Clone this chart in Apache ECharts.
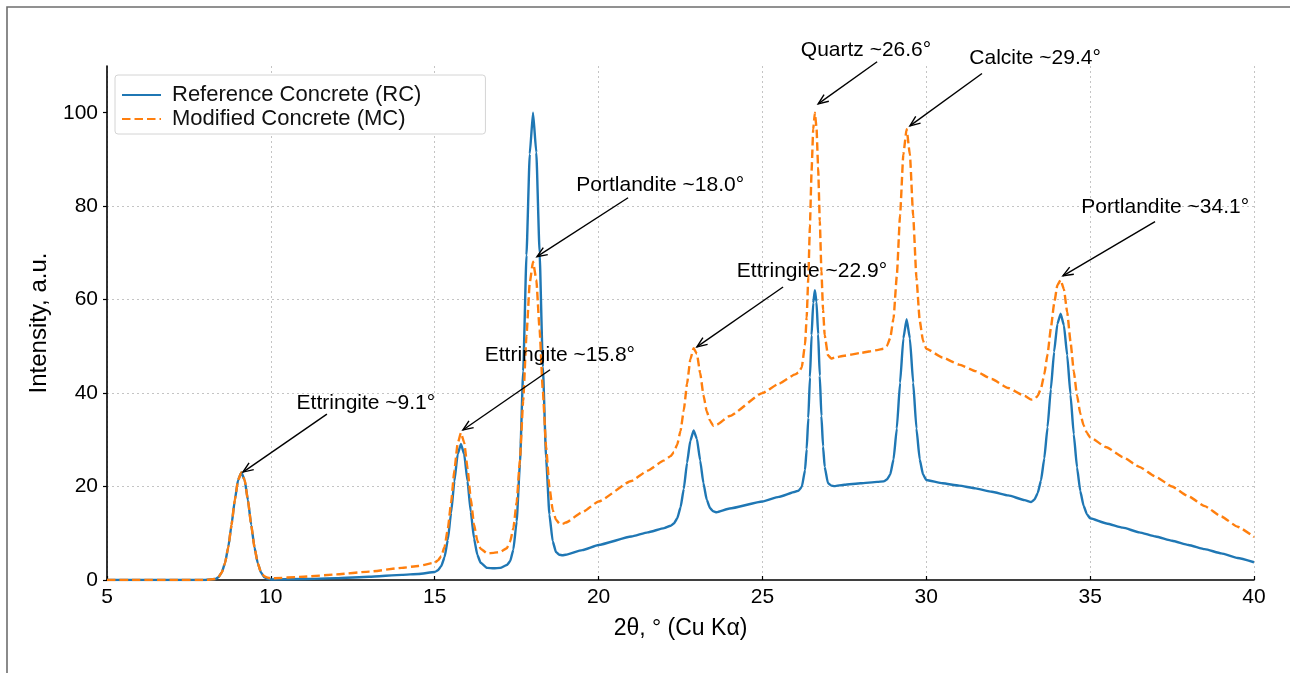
<!DOCTYPE html>
<html>
<head>
<meta charset="utf-8">
<script src="https://cdn.jsdelivr.net/npm/echarts@6/dist/echarts.min.js"></script>
<style>
html,body{margin:0;padding:0;background:#fff;}
#chart{width:1290px;height:673px;}
</style>
</head>
<body>
<div id="chart"></div>
<script>
// ---- data ----
const twoTheta = [5,6,7,8,8.3,8.4,8.5,8.6,8.7,8.8,8.9,9.0,9.1,9.2,9.3,9.4,9.5,9.6,9.7,9.8,9.9,10,
  11,12,13,14,14.5,15,15.1,15.2,15.3,15.4,15.5,15.6,15.7,15.8,15.9,16.0,16.1,16.2,16.3,16.4,16.6,16.8,17.0,17.2,
  17.3,17.4,17.5,17.6,17.7,17.8,17.9,18.0,18.1,18.2,18.3,18.4,18.5,18.6,18.7,18.8,18.9,19.0,19.5,20,21,21.5,22,22.2,
  22.3,22.4,22.5,22.6,22.7,22.8,22.9,23.0,23.1,23.2,23.3,23.4,23.5,23.6,24,25,25.5,26,26.1,26.2,26.3,26.35,26.4,26.45,
  26.5,26.55,26.6,26.65,26.7,26.75,26.8,26.85,26.9,27.0,27.1,27.2,27.5,28,28.5,28.7,28.8,28.9,29.0,29.1,29.2,29.3,
  29.4,29.5,29.6,29.7,29.8,29.9,30.0,30.5,31,31.5,32,32.5,33,33.2,33.3,33.4,33.5,33.6,33.7,33.8,33.9,34.0,34.1,34.2,
  34.3,34.4,34.5,34.6,34.7,34.8,34.9,35.0,35.5,36,36.5,37,37.5,38,38.5,39,39.5,40];

const rcIntensity = [0,0,0,0,0.2,0.6,1.6,3.6,7.0,11.8,17.1,21.4,23.0,21.4,17.1,11.8,7.0,3.6,1.6,0.6,0.25,0.1,
  0.2,0.4,0.7,1.1,1.3,1.7,2.1,3.0,4.9,8.6,14.4,21.1,26.9,29.1,26.9,21.2,14.6,8.9,5.4,3.7,2.6,2.5,2.6,3.2,
  4.0,6.5,12.5,24.8,44.7,69.5,91.2,100.0,91.5,70.1,45.6,26.0,14.0,8.3,6.0,5.4,5.3,5.4,6.4,7.5,9.3,10.2,11.1,11.6,
  12.1,13.2,15.5,19.5,25.1,29.8,32.0,30.2,25.6,20.7,17.2,15.4,14.7,14.5,15.3,16.8,17.8,18.9,19.1,19.9,23.5,28.0,34.7,43.4,
  52.4,59.3,62.0,59.5,52.6,43.7,35.1,28.6,24.2,20.7,20.2,20.1,20.4,20.7,21.0,21.1,21.5,22.6,25.8,32.4,42.2,51.7,
  55.8,51.7,42.2,32.4,25.8,22.6,21.4,20.7,20.2,19.6,18.9,18.1,17.1,16.7,17.2,18.6,21.3,26.0,32.7,40.8,48.8,54.8,57.0,54.5,
  48.1,39.7,31.2,24.1,19.0,15.9,14.1,13.2,12.1,11.2,10.2,9.3,8.4,7.5,6.6,5.7,4.7,3.8];

const mcIntensity = [0,0,0,0,0.2,0.6,1.6,3.6,7.0,11.8,17.1,21.4,23.0,21.4,17.1,11.8,7.0,3.6,1.6,0.8,0.5,0.35,
  0.7,1.2,1.8,2.6,3.0,3.7,4.2,5.1,7.1,10.9,16.6,23.5,29.2,31.5,29.4,24.0,17.4,11.9,8.4,6.7,5.7,5.8,6.0,6.8,
  8.2,11.1,16.6,25.7,38.4,52.3,63.6,68.1,64.3,53.6,40.3,28.4,19.9,15.0,12.9,12.1,12.0,12.3,14.5,16.8,21.2,23.4,25.6,26.5,
  27.4,29.0,31.9,36.3,42.0,47.2,49.6,48.4,44.3,39.6,36.1,34.1,33.0,33.2,35.1,40.0,42.0,44.0,44.4,45.5,50.4,56.2,64.8,76.0,
  87.6,96.5,100.0,96.8,88.2,76.9,66.1,57.8,52.4,48.1,47.4,47.6,48.0,48.6,49.2,49.5,50.1,51.8,56.0,65.0,78.1,91.1,
  96.5,91.0,77.9,64.6,55.5,51.2,49.5,47.6,46.1,44.7,43.0,41.1,39.4,38.6,38.7,39.4,41.0,44.0,48.3,53.8,59.1,63.1,64.2,62.2,
  57.3,51.1,44.7,39.5,35.6,33.1,31.5,30.5,28.4,26.3,24.2,22.1,20.0,17.9,15.8,13.6,11.4,9.2];

const seriesNames = ['Reference Concrete (RC)', 'Modified Concrete (MC)'];
const yTicks = [0, 20, 40, 60, 80, 100];

// annotations: label, text centre, arrow tail, arrow head (data coordinates)
const annotationLabels = ['Ettringite ~9.1°','Ettringite ~15.8°','Portlandite ~18.0°','Ettringite ~22.9°',
  'Quartz ~26.6°','Calcite ~29.4°','Portlandite ~34.1°'];
const annotationText = [[12.90,37.9],[18.82,48.2],[21.88,84.4],[26.51,66.0],[28.16,113.3],[33.32,111.6],[37.29,79.7]];
const arrowTail = [[11.71,35.5],[18.52,45.0],[20.90,81.8],[25.63,62.7],[28.50,110.9],[31.70,108.4],[36.98,76.7]];
const arrowHead = [[9.15,23.1],[15.86,32.1],[18.12,69.2],[23.00,49.9],[26.70,101.9],[29.50,97.2],[34.17,65.1]];

const FONT = '"Liberation Sans", Arial, Helvetica, sans-serif';

const chart = echarts.init(document.getElementById('chart'), null, {renderer: 'canvas'});
const zip = (xs, ys) => xs.map((x, i) => [x, ys[i]]);

const option = {
  animation: false,
  backgroundColor: '#fff',
  textStyle: {fontFamily: FONT, color: '#000'},
  grid: {left: 107, right: 36, top: 66, bottom: 93, containLabel: false},
  legend: {
    orient: 'vertical',
    left: 115, top: 75,
    padding: [8, 64, 3, 6],
    itemGap: 0,
    itemWidth: 39, itemHeight: 14,
    backgroundColor: '#fff',
    borderColor: '#d4d4d4', borderWidth: 1, borderRadius: 3,
    itemStyle: {opacity: 0, borderWidth: 0},
    textStyle: {fontFamily: FONT, fontSize: 22, color: '#111', lineHeight: 24, padding: [0, 0, 0, 6]},
    data: seriesNames
  },
  xAxis: {
    type: 'value', min: 5, max: 40, interval: 5,
    name: '2θ, ° (Cu Kα)', nameLocation: 'middle', nameGap: 37,
    nameTextStyle: {fontFamily: FONT, fontSize: 23, color: '#000'},
    axisLine: {show: true, onZero: false, lineStyle: {color: '#000', width: 1.6}},
    axisTick: {show: true, inside: true, length: 4, lineStyle: {color: '#000', width: 1.2}},
    axisLabel: {fontFamily: FONT, fontSize: 21, color: '#000', margin: 7},
    splitLine: {show: true, lineStyle: {color: '#c4c4c4', width: 1, type: [2, 3]}}
  },
  yAxis: {
    type: 'value', min: 0, max: 110, interval: 20,
    name: 'Intensity, a.u.', nameLocation: 'middle', nameGap: 56, nameRotate: 90,
    nameTextStyle: {fontFamily: FONT, fontSize: 24, color: '#000'},
    axisLine: {show: true, onZero: false, lineStyle: {color: '#000', width: 1.6}},
    axisTick: {show: true, inside: false, length: 4, customValues: yTicks, lineStyle: {color: '#000', width: 1.2}},
    axisLabel: {fontFamily: FONT, fontSize: 21, color: '#000', margin: 9, customValues: yTicks,
      formatter: v => (v > 100 ? '' : String(v))},
    splitLine: {show: true, showMaxLine: false, showMinLine: false,
      lineStyle: {color: '#c4c4c4', width: 1, type: [2, 3]}}
  },
  series: [
    {
      name: seriesNames[0], type: 'line', data: zip(twoTheta, rcIntensity),
      showSymbol: false, symbol: 'none', smooth: 0.15, smoothMonotone: 'x',
      lineStyle: {color: '#1f77b4', width: 2.4, join: 'round'},
      itemStyle: {color: '#1f77b4'}, z: 2
    },
    {
      name: seriesNames[1], type: 'line', data: zip(twoTheta, mcIntensity),
      showSymbol: false, symbol: 'none', smooth: 0.15, smoothMonotone: 'x',
      lineStyle: {color: '#ff7f0e', width: 2.4, type: [8.5, 4], join: 'round'},
      itemStyle: {color: '#ff7f0e'}, z: 3
    }
  ]
};
chart.setOption(option);

// annotations drawn through the chart's own coordinate conversion
const px = p => chart.convertToPixel({xAxisIndex: 0, yAxisIndex: 0}, p);
const graphics = [{
  type: 'rect', silent: true, z: 0,
  shape: {x: 7, y: 7, width: 1400, height: 800},
  style: {fill: 'none', stroke: '#6e6e6e', lineWidth: 1.6}
}];
annotationLabels.forEach((label, i) => {
  const t = px(annotationText[i]);
  const a = px(arrowTail[i]);
  const b = px(arrowHead[i]);
  const dx = b[0] - a[0], dy = b[1] - a[1];
  const len = Math.hypot(dx, dy);
  const ux = dx / len, uy = dy / len;
  const hl = 11, ang = 22 * Math.PI / 180;
  const rot = (x, y, t) => [x * Math.cos(t) - y * Math.sin(t), x * Math.sin(t) + y * Math.cos(t)];
  const w1 = rot(-ux, -uy, ang), w2 = rot(-ux, -uy, -ang);
  graphics.push({
    type: 'text', z: 10, silent: true,
    style: {text: label, x: t[0], y: t[1], fill: '#000', align: 'center', verticalAlign: 'middle',
      font: '21px ' + FONT}
  });
  graphics.push({
    type: 'line', z: 10, silent: true,
    shape: {x1: a[0], y1: a[1], x2: b[0], y2: b[1]},
    style: {stroke: '#000', lineWidth: 1.4}
  });
  graphics.push({
    type: 'polyline', z: 10, silent: true,
    shape: {points: [[b[0] + w1[0] * hl, b[1] + w1[1] * hl], [b[0], b[1]], [b[0] + w2[0] * hl, b[1] + w2[1] * hl]]},
    style: {stroke: '#000', lineWidth: 1.4, fill: 'none'}
  });
});
chart.setOption({graphic: graphics});
</script>
</body>
</html>
